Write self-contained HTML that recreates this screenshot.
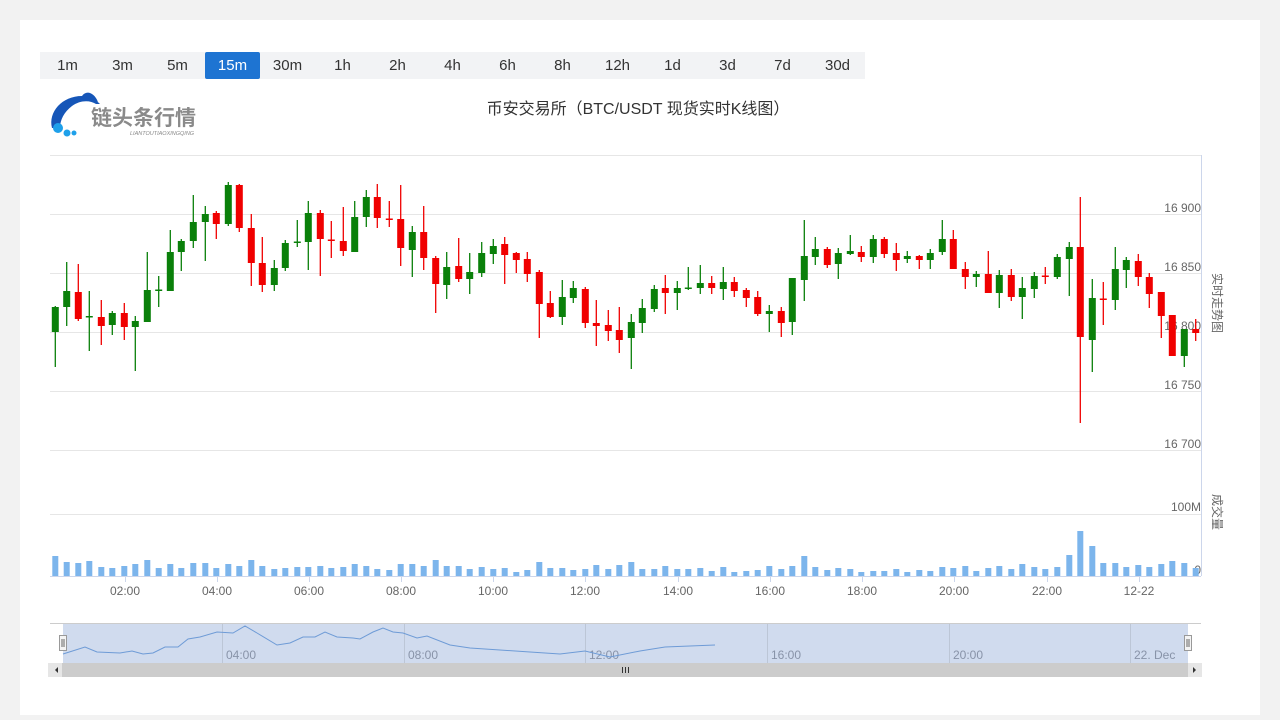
<!DOCTYPE html>
<html><head><meta charset="utf-8">
<style>
html,body{margin:0;padding:0;background:#f2f2f2;width:1280px;height:720px;overflow:hidden;font-family:"Liberation Sans","Noto Sans CJK SC",sans-serif}
#panel{position:absolute;left:20px;top:20px;width:1240px;height:695px;background:#fff}
#btns{position:absolute;left:40px;top:52px;width:825px;height:27px;background:#f2f3f5;display:flex}
#btns div{width:55px;height:27px;line-height:27px;text-align:center;font-size:15px;color:#333}
#btns div.a{background:#1e74d2;color:#fff;border-radius:2px}
svg{position:absolute;left:0;top:0}
</style></head><body>
<div id="panel"></div>
<div id="btns"><div>1m</div><div>3m</div><div>5m</div><div class="a">15m</div><div>30m</div><div>1h</div><div>2h</div><div>4h</div><div>6h</div><div>8h</div><div>12h</div><div>1d</div><div>3d</div><div>7d</div><div>30d</div></div>
<svg id="s" width="1280" height="720" xmlns="http://www.w3.org/2000/svg">
<!-- logo -->
<path d="M52,128 C48,112 62,96 82,96 C90,96 96,100 100,104 L96,104 C90,100 80,100 72,106 C64,112 60,120 60,128 Z" fill="#1656b8"/>
<path d="M82,96 C86,90 94,92 98,102 Z" fill="#1656b8"/>
<circle cx="58" cy="128" r="5" fill="#1ea0ea"/><circle cx="67" cy="133" r="3.5" fill="#1ea0ea"/><circle cx="74" cy="133" r="2.5" fill="#1ea0ea"/>
<text x="91" y="125" font-size="21" font-weight="bold" fill="#8a8a8a" font-family="Liberation Sans,Noto Sans CJK SC,sans-serif">链头条行情</text>
<text x="130" y="135" font-size="5.5" fill="#888" font-style="italic">LIANTOUTIAOXINGQING</text>
<text x="638" y="114" font-size="16" fill="#333" text-anchor="middle" font-family="Liberation Sans,Noto Sans CJK SC,sans-serif">币安交易所（BTC/USDT 现货实时K线图）</text>
<g id="grid" stroke="#e6e6e6" stroke-width="1"></g>
<line x1="1201.5" y1="155" x2="1201.5" y2="576" stroke="#ccd6eb"/>
<line x1="50" y1="576.5" x2="1201" y2="576.5" stroke="#ccd6eb"/>
<g id="lbl" font-size="12" fill="#666" text-anchor="end"></g>
<text transform="translate(1213,303) rotate(90)" font-size="12" fill="#666" text-anchor="middle" font-family="Liberation Sans,Noto Sans CJK SC,sans-serif">实时走势图</text>
<text transform="translate(1213,512) rotate(90)" font-size="12" fill="#666" text-anchor="middle" font-family="Liberation Sans,Noto Sans CJK SC,sans-serif">成交量</text>
<g id="vol" fill="#7cb5ec"></g>
<g id="cd"></g>
<g id="xt" font-size="12" fill="#666" text-anchor="middle"></g>
<!-- navigator -->
<line x1="50" y1="623.5" x2="1201" y2="623.5" stroke="#ccc"/>
<rect x="63" y="624" width="1125" height="39" fill="#d0dbee"/>
<g id="nv" stroke="#bcc6d6"></g>
<g id="nl" font-size="12" fill="#8893a8"></g>
<path d="M63,654 L85,647 L97,652 L120,653 L132,651 L143,654 L153,653 L165,647 L178,647 L188,639 L200,637 L217,632 L233,633 L245,626 L257,633 L277,645 L290,643 L303,637 L315,637 L325,632 L337,637 L353,638 L360,639 L373,632 L383,628 L393,632 L403,633 L417,638 L427,636 L450,645 L470,648 L500,650 L530,652 L560,654 L585,651 L610,657 L640,651 L665,647 L690,646 L715,645" fill="none" stroke="#6e9bd6" stroke-width="1"/>
<rect x="59.5" y="635.5" width="7" height="15" fill="#f4f4f4" stroke="#999"/><line x1="62" y1="639" x2="62" y2="647" stroke="#666"/><line x1="64" y1="639" x2="64" y2="647" stroke="#666"/>
<rect x="1184.5" y="635.5" width="7" height="15" fill="#f4f4f4" stroke="#999"/><line x1="1187" y1="639" x2="1187" y2="647" stroke="#666"/><line x1="1189" y1="639" x2="1189" y2="647" stroke="#666"/>
<rect x="48" y="663" width="1154" height="14" fill="#e6e6e6"/>
<rect x="62" y="663" width="1126" height="14" fill="#cccccc"/>
<path d="M58,667 L55,670 L58,673 Z" fill="#333"/><path d="M1193,667 L1196,670 L1193,673 Z" fill="#333"/>
<g stroke="#333"><line x1="622.5" y1="667" x2="622.5" y2="673"/><line x1="625.5" y1="667" x2="625.5" y2="673"/><line x1="628.5" y1="667" x2="628.5" y2="673"/></g>
</svg>
<script>
var NS="http://www.w3.org/2000/svg";
function el(p,t,a,txt){var e=document.createElementNS(NS,t);for(var k in a)e.setAttribute(k,a[k]);if(txt)e.textContent=txt;document.getElementById(p).appendChild(e);return e;}
[155,214,273,332,391,450,514].forEach(function(y){el("grid","line",{x1:50,x2:1201,y1:y+.5,y2:y+.5});});
[["16 900",212],["16 850",271],["16 800",330],["16 750",389],["16 700",448],["100M",511]].forEach(function(l){el("lbl","text",{x:1201,y:l[1]},l[0]);});
el("lbl","text",{x:1201,y:574},"0");
var C=[[55.3,307,332,306,367,'g'],[66.7,291,307,262,326,'g'],[78.3,292,319,264,321,'r'],[89.3,316,317.5,291,351,'g'],[101.3,317,326,300,345,'r'],[112.3,313,325,311,335,'g'],[124.3,313,327,303,340,'r'],[135.3,321,327,316,371,'g'],[147.3,290,322,252,322,'g'],[158.7,289.5,291,276,307,'g'],[170.3,252,291,230,291,'g'],[181.3,241,252,239,271,'g'],[193.3,222,241,195,248,'g'],[205.3,214,222,206,261,'g'],[216.3,213,224,211,239,'r'],[228.3,185,224,182,226,'g'],[239.3,185,228,184,232,'r'],[251.3,228,263,214,286,'r'],[262.3,263,285,237,292,'r'],[274.3,268,285,260,291,'g'],[285.3,243,268,240,271,'g'],[297.3,241.5,243,220,247,'g'],[308.3,213,242,201,270,'g'],[320.3,213,239,210,276,'r'],[331.3,239.5,241,221,258,'r'],[343.3,241,251,207,256,'r'],[354.7,217,252,201,252,'g'],[366.3,197,217,190,227,'g'],[377.3,197,218,184,228,'r'],[389.3,218.5,220,201,227,'r'],[400.7,219,248,185,266,'r'],[412.3,232,250,226,277,'g'],[423.7,232,258,206,270,'r'],
[435.7,258,284,256,313,'r'],[446.7,267,285,252,299,'g'],[458.7,266,279,238,282,'r'],[469.7,272,279,253,294,'g'],[481.7,253,273,242,277,'g'],[493.3,246,254,239,264,'g'],[504.7,244,255,237,284,'r'],[516.3,253,260,252,273,'r'],[527.3,259,274,252,282,'r'],[539.3,272,304,270,338,'r'],[550.3,303,317,291,318,'r'],[562.3,297,317,280,325,'g'],[573.3,288,298,281,303,'g'],[585.3,289,323,287,328,'r'],[596.3,323,326,300,346,'r'],[608.3,325,331,310,341,'r'],[619.3,330,340,307,353,'r'],[631.3,322,338,314,369,'g'],[642.3,308,323,299,333,'g'],[654.3,289,309,285,312,'g'],[665.3,288,293,275,314,'r'],[677.3,288,293,281,310,'g'],[688.3,287.5,289,267,290,'g'],[700.3,283,288,265,294,'g'],[711.7,283,288,276,294,'r'],[723.3,282,289,267,300,'g'],[734.3,282,291,277,297,'r'],[746.3,290,298,288,307,'r'],[757.7,297,314,291,316,'r'],[769.3,311,314,305,332,'g'],[781.3,311,323,307,337,'r'],[792.3,278,322,278,335,'g'],[804.3,256,280,220,301,'g'],[815.3,249,257,237,265,'g'],
[827.3,249,265,247,268,'r'],[838.3,253,264,248,279,'g'],[850.3,251,254,235,255,'g'],[861.3,252,257,246,262,'r'],[873.3,239,257,235,263,'g'],[884.3,239,254,237,258,'r'],[896.3,253,260,243,271,'r'],[907.3,256,259,251,263,'g'],[919.3,256,260,255,269,'r'],[930.3,253,260,249,269,'g'],[942.3,239,252,220,255,'g'],[953.3,239,269,230,269,'r'],[965.3,269,277,262,289,'r'],[976.3,274,277,271,287,'g'],[988.3,274,293,251,293,'r'],[999.3,275,293,270,308,'g'],[1011.3,275,297,269,301,'r'],[1022.3,288,297,277,319,'g'],[1034.3,276,289,272,298,'g'],[1045.3,275.5,277,267,284,'r'],[1057.3,257,277,254,279,'g'],[1069.3,247,259,242,296,'g'],[1080.3,247,337,197,423,'r'],[1092.3,298,340,279,372,'g'],[1103.3,298.5,300,282,325,'r'],[1115.3,269,300,247,310,'g'],[1126.3,260,270,257,288,'g'],[1138.3,261,277,254,286,'r'],[1149.3,277,294,273,308,'r'],[1161.3,292,316,292,338,'r'],[1172.3,315,356,315,356,'r'],[1184.3,329,356,329,367,'g'],[1195.7,329,333,319,341,'r']];
C.forEach(function(c){var col=c[5]=='g'?'#0a800a':'#f00000';
el("cd","line",{x1:c[0],x2:c[0],y1:c[3],y2:c[4],stroke:col,"stroke-width":1.3});
var h=Math.max(c[2]-c[1],1.5);el("cd","rect",{x:c[0]-3.5,y:c[1],width:7,height:h,fill:col});});
var V=[20,14,13,15,9,8,10,12,16,8,12,8,13,13,8,12,10,16,10,7,8,9,9,10,8,9,12,10,7,6,12,12,10,16,10,10,7,9,7,8,4,6,14,8,8,6,7,11,7,11,
14,7,7,10,7,7,8,5,9,4,5,6,10,7,10,20,9,6,8,7,4,5,5,7,4,6,5,9,8,10,5,8,10,7,12,9,7,9,21,45,30,13,13,9,11,9,12,15,13,8];
for(var i=0;i<100;i++){var x=i<C.length?C[i][0]:55+i*11.52;el("vol","rect",{x:x-3,y:576-V[i],width:6,height:V[i]});}
[["02:00",125],["04:00",217],["06:00",309],["08:00",401],["10:00",493],["12:00",585],["14:00",678],["16:00",770],["18:00",862],["20:00",954],["22:00",1047],["12-22",1139]].forEach(function(t){
el("xt","line",{x1:t[1]+.5,x2:t[1]+.5,y1:577,y2:582,stroke:"#ccd6eb"});el("xt","text",{x:t[1],y:595},t[0]);});
[["04:00",222],["08:00",404],["12:00",585],["16:00",767],["20:00",949],["22. Dec",1130]].forEach(function(t){
el("nv","line",{x1:t[1]+.5,x2:t[1]+.5,y1:624,y2:663});el("nl","text",{x:t[1]+4,y:659},t[0]);});
</script>
</body></html>
